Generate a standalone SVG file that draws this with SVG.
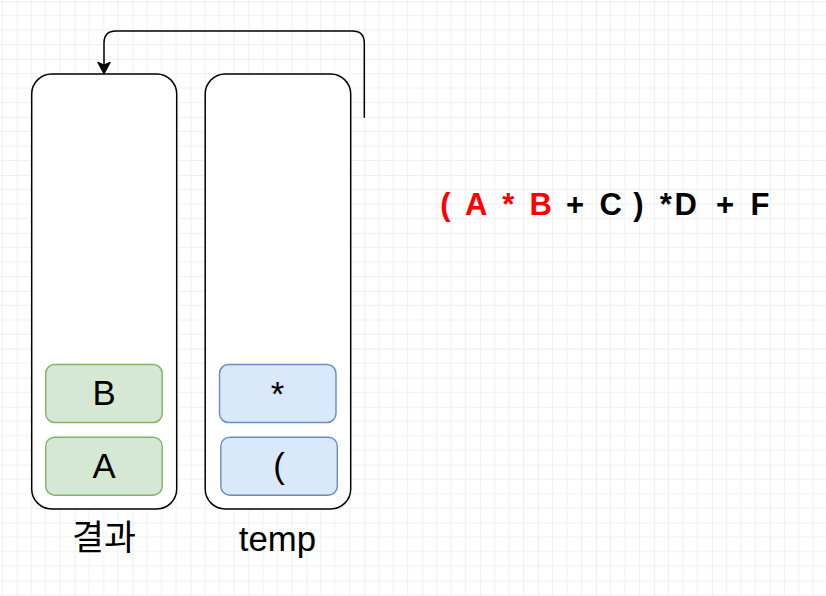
<svg xmlns="http://www.w3.org/2000/svg" width="826" height="596" viewBox="0 0 826 596">
<style>
.container{fill:#ffffff;stroke:#000000;stroke-width:1.5}
.green{fill:#d5e8d4;stroke:#82b366;stroke-width:1.45}
.blue{fill:#dae8fc;stroke:#6c8ebf;stroke-width:1.45}
.lbl{font-family:"Liberation Sans","Noto Sans CJK KR",Arial,sans-serif;font-size:34.75px;fill:#000000;text-anchor:middle}
.expr{font-family:"Liberation Sans",Arial,sans-serif;font-size:31px;font-weight:bold;text-anchor:middle}
.red{fill:#ff0000}
.blk{fill:#000000}
.edge{fill:none;stroke:#000000;stroke-width:1.5}
</style>
<defs>
<pattern id="grid" patternUnits="userSpaceOnUse" x="16.7" y="1.2" width="57.93" height="57.93">
<path d="M14.48,0V57.93M28.96,0V57.93M43.45,0V57.93M0,14.48H57.93M0,28.96H57.93M0,43.45H57.93" stroke="#f0f0f0" stroke-width="1" fill="none"/>
<path d="M0,0V57.93M0,0H57.93" stroke="#e0e0e0" stroke-width="1" fill="none"/>
</pattern>
<marker id="arrow" markerUnits="userSpaceOnUse" markerWidth="14" markerHeight="14" refX="12" refY="6.5" orient="auto" viewBox="0 0 14 13">
<path d="M12,6.5L0,0L3,6.5L0,13Z" fill="#000000" stroke="#000000" stroke-width="1"/>
</marker>
</defs>
<rect x="0" y="0" width="826" height="596" fill="#ffffff"/>
<rect x="0" y="0" width="826" height="596" fill="url(#grid)"/>

<g id="result-stack">
<rect class="container" x="31.7" y="74" width="145" height="435" rx="20" ry="20"/>
<text class="lbl" x="104" y="550">결과</text>
</g>
<g id="temp-stack">
<rect class="container" x="205.2" y="74" width="145.5" height="435" rx="20" ry="20"/>
<text class="lbl" x="277.5" y="551">temp</text>
</g>
<g id="node-B">
<rect class="green" x="45.7" y="364.5" width="116.5" height="58" rx="9" ry="9"/>
<text class="lbl" x="104" y="405">B</text>
</g>
<g id="node-A">
<rect class="green" x="45.7" y="437.2" width="116.5" height="58" rx="9" ry="9"/>
<text class="lbl" x="104" y="478.3">A</text>
</g>
<g id="node-star">
<rect class="blue" x="219.5" y="364.5" width="116.5" height="58" rx="9" ry="9"/>
<text class="lbl" x="277.5" y="406">*</text>
</g>
<g id="node-paren">
<rect class="blue" x="220.8" y="437.2" width="116.5" height="58" rx="9" ry="9"/>
<text class="lbl" x="279" y="478">(</text>
</g>
<g id="expression">
<text class="expr" y="214.5"><tspan class="red" x="445.5">(</tspan><tspan class="red" x="476.3">A</tspan><tspan class="red" x="508.3">*</tspan><tspan class="red" x="540.8">B</tspan><tspan class="blk" x="575">+</tspan><tspan class="blk" x="610.8">C</tspan><tspan class="blk" x="638.3">)</tspan><tspan class="blk" x="665.8">*</tspan><tspan class="blk" x="685.8">D</tspan><tspan class="blk" x="725">+</tspan><tspan class="blk" x="760">F</tspan></text>
</g>
<g id="connectors">
<path class="edge" d="M364.3,117.7V43Q364.3,31 352.3,31H116Q104,31 104,43V74" marker-end="url(#arrow)"/>
</g>
</svg>
